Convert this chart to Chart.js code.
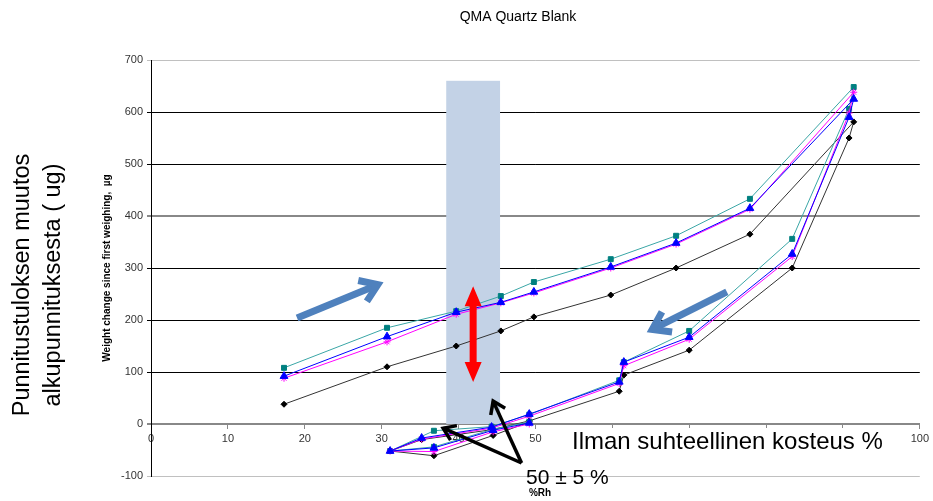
<!DOCTYPE html>
<html>
<head>
<meta charset="utf-8">
<script src="https://cdn.jsdelivr.net/npm/chart.js@4/dist/chart.umd.min.js"></script>
<style>
  html, body { margin: 0; padding: 0; background: #fff; }
  #wrap { width: 933px; height: 501px; }
</style>
</head>
<body>
<div id="wrap"><canvas id="chart"></canvas></div>
<script>
// Relative humidity (%Rh) of each weighing, rising branch then falling branch
const rh     = [17.3, 30.7, 39.7, 45.5, 49.8, 59.8, 68.3, 77.9, 91.4, 90.8, 83.4, 70.0, 61.5, 60.9, 49.2, 44.3, 35.2, 31.1, 36.8, 44.5, 49.2]
const rhTeal = [17.3, 30.7, 39.7, 45.5, 49.8, 59.8, 68.3, 77.9, 91.4, 90.8, 83.4, 70.0, 61.5, 60.9, 49.2, 44.3, 36.8, 31.1, 36.8, 44.5, 49.2]

// Weight change since first weighing, µg
const blackSeries   = [38, 110, 150, 179, 206, 248, 300, 365, 581, 550, 300, 142, 94, 63, 6, -11, -30, -52, -61, -22, 4]
const magentaSeries = [88, 158, 211, 233, 252, 300, 346, 413, 638, 598, 322, 163, 112, 78, 15, -8, -29, -52, -53, -15, 0]
const blueSeries    = [92, 168, 215, 234, 254, 302, 348, 415, 625, 590, 327, 167, 119, 81, 19, -6, -27, -52, -46, -12, 2]
const tealSeries    = [108, 185, 217, 246, 273, 317, 362, 433, 648, 606, 356, 179, 119, 84, 18, -5, -13, -52, -44, -10, 4]

// 50 ± 5 % band
const bandRh = [38.4, 45.4]
const bandTop = 660

const FONT = "'Liberation Sans', Arial, sans-serif"
Chart.defaults.font.family = FONT

const points = (xs, ys) => xs.map((x, i) => ({ x, y: ys[i] }))

function openArrow(ctx, x1, y1, x2, y2, color, width, head) {
  const a = Math.atan2(y2 - y1, x2 - x1)
  ctx.strokeStyle = color
  ctx.lineWidth = width
  ctx.lineCap = "butt"
  ctx.lineJoin = "miter"
  ctx.beginPath()
  ctx.moveTo(x1, y1)
  ctx.lineTo(x2, y2)
  ctx.stroke()
  ctx.beginPath()
  ctx.moveTo(x2 - head * Math.cos(a - 0.6), y2 - head * Math.sin(a - 0.6))
  ctx.lineTo(x2, y2)
  ctx.lineTo(x2 - head * Math.cos(a + 0.6), y2 - head * Math.sin(a + 0.6))
  ctx.stroke()
}

function doubleArrow(ctx, x, yTop, yBot, color) {
  const shaft = 3.5, headW = 8.5, headH = 20
  ctx.fillStyle = color
  ctx.beginPath()
  ctx.moveTo(x, yTop)
  ctx.lineTo(x + headW, yTop + headH)
  ctx.lineTo(x + shaft, yTop + headH)
  ctx.lineTo(x + shaft, yBot - headH)
  ctx.lineTo(x + headW, yBot - headH)
  ctx.lineTo(x, yBot)
  ctx.lineTo(x - headW, yBot - headH)
  ctx.lineTo(x - shaft, yBot - headH)
  ctx.lineTo(x - shaft, yTop + headH)
  ctx.lineTo(x - headW, yTop + headH)
  ctx.closePath()
  ctx.fill()
}

function boxedText(ctx, text, x, y, font) {
  ctx.font = font
  const w = ctx.measureText(text).width
  ctx.fillStyle = "#fff"
  ctx.fillRect(x - 6, y - 14, w + 12, 28)
  ctx.fillStyle = "#000"
  ctx.fillText(text, x, y)
}

const annotate = {
  id: "annotate",
  beforeDatasetsDraw(chart) {
    const { ctx, scales: { x, y } } = chart
    const l = x.getPixelForValue(bandRh[0]), r = x.getPixelForValue(bandRh[1])
    const t = y.getPixelForValue(bandTop), b = y.getPixelForValue(0)
    ctx.save()
    ctx.fillStyle = "#c3d2e6"
    ctx.fillRect(l, t, r - l, b - t)
    ctx.restore()
  },
  afterDatasetsDraw(chart) {
    const { ctx, scales: { x, y } } = chart
    const px = v => x.getPixelForValue(v), py = v => y.getPixelForValue(v)
    ctx.save()
    doubleArrow(ctx, px(41.9), py(265), py(81), "#ff0000")
    openArrow(ctx, px(19.0), py(204), px(29.5), py(268), "#4f81bd", 7, 20)
    openArrow(ctx, px(74.9), py(254), px(65.2), py(182), "#4f81bd", 7, 20)
    ctx.restore()
  },
  afterDraw(chart) {
    const { ctx, scales: { x, y } } = chart
    const px = v => x.getPixelForValue(v), py = v => y.getPixelForValue(v)
    ctx.save()
    ctx.fillStyle = "#000"
    ctx.textBaseline = "middle"
    ctx.textAlign = "center"
    ctx.font = `14px ${FONT}`
    ctx.fillText("QMA Quartz Blank", 518, 17)
    ctx.font = `bold 10px ${FONT}`
    ctx.fillText("%Rh", 540, 493)
    ctx.textAlign = "left"
    boxedText(ctx, "Ilman suhteellinen kosteus %", 572, 442, `24px ${FONT}`)
    ctx.font = `21px ${FONT}`
    ctx.fillText("50 ± 5 %", 526, 478)
    openArrow(ctx, px(48.2), py(-75), px(44.5), py(44), "#000", 3.5, 14)
    openArrow(ctx, px(48.2), py(-75), px(38.0), py(-8), "#000", 3.5, 14)
    ctx.font = `23.5px ${FONT}`
    ctx.textAlign = "center"
    ctx.fillStyle = "#000"
    ctx.translate(23, 285)
    ctx.rotate(-Math.PI / 2)
    ctx.fillText("Punnitustuloksen muutos", 0, 0)
    ctx.fillText("alkupunnituksesta ( ug)", 0, 31)
    ctx.restore()
  }
}

const gridColor = ctx => {
  const v = ctx.tick && ctx.tick.value
  if (v === 700 || v === -100) return "#c0c0c0"
  if (v === 0 || v === 400) return "#888"
  return "#000"
}
const gridWidth = ctx => {
  const v = ctx.tick && ctx.tick.value
  return v === 0 || v === 400 ? 2 : 1
}

new Chart(document.getElementById("chart"), {
  type: "line",
  data: {
    datasets: [
      {
        label: "blue", data: points(rh, blueSeries), order: 0,
        borderColor: "#0000ff", backgroundColor: "#0000ff", borderWidth: 1,
        pointStyle: "triangle", pointRadius: 4.5, pointBorderWidth: 1
      },
      {
        label: "magenta", data: points(rh, magentaSeries), order: 1,
        borderColor: "#ff00ff", backgroundColor: "#ff00ff", borderWidth: 1,
        pointStyle: "star", pointRadius: 3.5, pointBorderWidth: 1
      },
      {
        label: "teal", data: points(rhTeal, tealSeries), order: 2,
        borderColor: "#3aa6a6", backgroundColor: "#008080", borderWidth: 1,
        pointStyle: "rect", pointRadius: 3.5, pointBorderColor: "#008080", pointBorderWidth: 1
      },
      {
        label: "black", data: points(rh, blackSeries), order: 3,
        borderColor: "#333", backgroundColor: "#000", borderWidth: 1,
        pointStyle: "rectRot", pointRadius: 3, pointBorderColor: "#000", pointBorderWidth: 1
      }
    ]
  },
  options: {
    responsive: true,
    maintainAspectRatio: false,
    animation: false,
    layout: { padding: { left: 95, right: 13, top: 60, bottom: 25 } },
    plugins: {
      legend: { display: false },
      tooltip: { enabled: false }
    },
    elements: { line: { tension: 0 } },
    scales: {
      x: {
        type: "linear",
        position: { y: 0 },
        min: 0,
        max: 100,
        ticks: { stepSize: 10, color: "#333", font: { size: 11 }, padding: 4, maxRotation: 0 },
        grid: { drawOnChartArea: false, drawTicks: true, tickLength: 4, color: "#888" },
        border: { color: "#888", width: 2 }
      },
      y: {
        min: -100,
        max: 700,
        afterFit: s => { s.width = 56 },
        ticks: { stepSize: 100, color: "#333", font: { size: 11 }, padding: 4 },
        grid: { color: gridColor, lineWidth: gridWidth, drawTicks: true, tickLength: 4 },
        border: { color: "#000", width: 1 },
        title: {
          display: true,
          text: "Weight change since first weighing,  µg",
          color: "#000",
          font: { size: 10, weight: "bold" },
          padding: { top: 6, bottom: 0 }
        }
      }
    }
  },
  plugins: [annotate]
})
</script>
</body>
</html>
